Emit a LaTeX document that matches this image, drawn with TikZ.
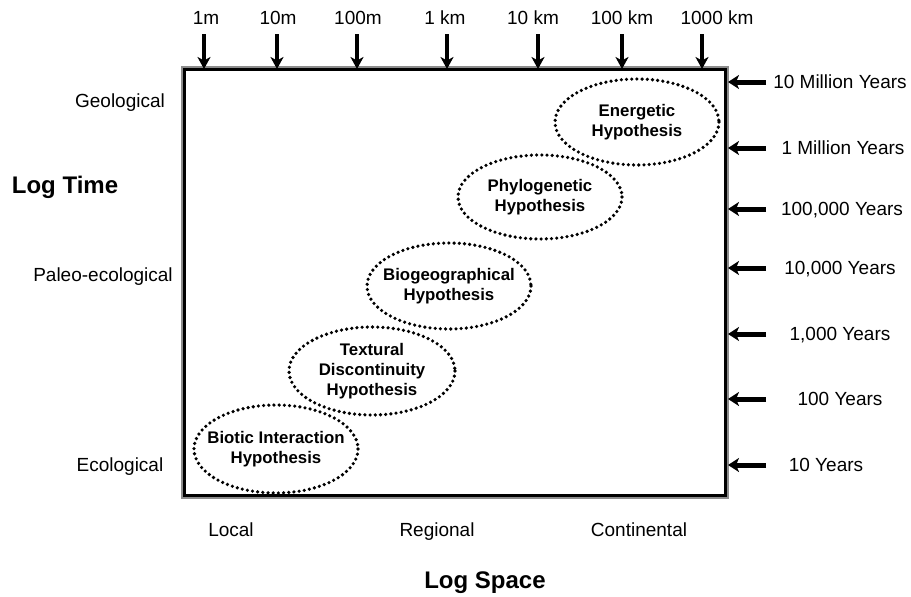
\documentclass[tikz,border=0pt]{standalone}
\usepackage{fontspec}
\setmainfont{Liberation Sans}
\usetikzlibrary{shapes.geometric,arrows.meta}
\begin{document}
\begin{tikzpicture}[x=1pt,y=-1pt,
  lbl/.style={font=\fontsize{19}{21}\selectfont, inner sep=0pt, text height=13.7pt, text depth=0pt},
  big/.style={font=\fontsize{24}{28}\selectfont\bfseries, inner sep=0pt},
  hyptxt/.style={inner sep=0pt, align=center, font=\fontsize{16.8}{20}\selectfont\bfseries},
  dots/.style={draw, line width=3.6pt, dash pattern=on 0pt off 5.2pt, line cap=round},
  arr/.style={line width=3.2pt, -{Stealth[length=12pt,width=13pt,inset=3.5pt]}},
  rarr/.style={line width=5pt, -{Stealth[length=11pt,width=14pt,inset=3pt]}}
]
\useasboundingbox (0,0) rectangle (911,597);
% frame
\draw[line width=4.5pt, black!45] (183,68) rectangle (727,497);
\node[draw, line width=2.6pt, minimum width=541pt, minimum height=426pt, inner sep=0pt] (frame) at (455,282.5) {};
% top scale
\foreach \nm/\x/\xl/\t in {a/204/206/1m, b/277/278/10m, c/357/358/100m, d/447/445/1 km, e/538/533/10 km, f/622/622/100 km, g/702/717/1000 km}{
  \node[lbl] (t\nm) at (\xl,18) {\t};
  \coordinate (s\nm) at (\x,34);
  \coordinate (e\nm) at (\x,69);
  \draw[arr] (s\nm) -- (e\nm);
}
% right scale
\foreach \nm/\y/\t/\xl in {a/82/10 Million Years/840, b/148/1 Million Years/843, c/209/{100,000 Years}/842, d/268/{10,000 Years}/840, e/334/{1,000 Years}/840, f/399/100 Years/840, g/465/10 Years/826}{
  \node[lbl] (r\nm) at (\xl,\y) {\t};
  \coordinate (rs\nm) at (766,\y);
  \coordinate (re\nm) at (728,\y);
  \draw[rarr] (rs\nm) -- (re\nm);
}
% left labels
\node[lbl] (geo) at (120,101) {Geological};
\node[big] (lt) at (65,187) {Log Time};
\node[lbl] (paleo) at (103,275) {Paleo-ecological};
\node[lbl] (eco) at (120,465) {Ecological};
% bottom labels
\node[lbl] (loc) at (231,530) {Local};
\node[lbl] (reg) at (437,530) {Regional};
\node[lbl] (cont) at (639,530) {Continental};
\node[big] (ls) at (485,583) {Log Space};
% hypotheses
\node[hyptxt] (en) at (637,122) {Energetic\\Hypothesis};
\node[hyptxt] (ph) at (540,197) {Phylogenetic\\Hypothesis};
\node[hyptxt] (bg) at (449,286) {Biogeographical\\Hypothesis};
\node[hyptxt] (tx) at (372,371) {Textural\\Discontinuity\\Hypothesis};
\node[hyptxt] (bi) at (276,449) {Biotic Interaction\\Hypothesis};
\draw[dots] (en.center) ellipse [x radius=82, y radius=43];
\draw[dots] (ph.center) ellipse [x radius=82, y radius=42];
\draw[dots] (bg.center) ellipse [x radius=82, y radius=43];
\draw[dots] (tx.center) ellipse [x radius=83, y radius=44];
\draw[dots] (bi.center) ellipse [x radius=82, y radius=44];
\end{tikzpicture}
\end{document}
